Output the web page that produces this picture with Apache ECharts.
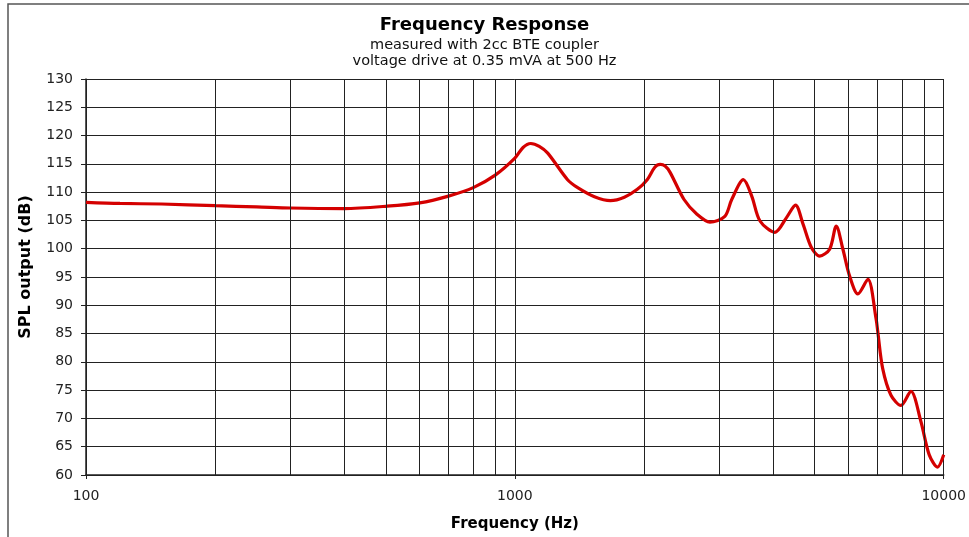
<!DOCTYPE html>
<html><head><meta charset="utf-8">
<script src="https://cdn.jsdelivr.net/npm/echarts@6/dist/echarts.min.js"></script>
<style>html,body{margin:0;padding:0;background:#fff;overflow:hidden}#c{width:969px;height:537px}</style>
</head><body><div id="c"></div>
<script>
var freqs = [100,120,150,200,250,300,400,500,600,700,800,900,1000,1045,1089,1140,1193,1327,1401,1533,1670,1800,1930,2035,2120,2182,2240,2301,2480,2658,2850,3087,3204,3411,3567,3729,4040,4299,4512,4701,4914,5137,5420,5616,5820,6031,6307,6654,6955,7019,7206,7534,7946,8381,8843,9247,9668,10000];
var spl   = [108.2,108.0,107.9,107.6,107.4,107.2,107.1,107.5,108.1,109.3,110.8,113.0,116.0,117.9,118.6,118.1,116.9,112.2,110.8,109.2,108.5,109.1,110.5,112.2,114.4,114.9,114.6,113.5,108.7,106.1,104.7,105.7,108.7,112.2,109.3,104.9,102.9,105.5,107.7,104.3,100.2,98.7,99.9,104.0,99.9,95.2,92.0,94.6,87.6,85.3,78.8,74.1,72.3,74.8,69.5,63.6,61.4,63.6];
var minorFreqs = [200,300,400,500,600,700,800,900,2000,3000,4000,5000,6000,7000,8000,9000];
var titleText = "Frequency Response";
var subText = "measured with 2cc BTE coupler\nvoltage drive at 0.35 mVA at 500 Hz";

var chart = echarts.init(document.getElementById('c'));
var font = "DejaVu Sans";
chart.setOption({
  animation:false,
  backgroundColor:'#fff',
  graphic:[{type:'rect',shape:{x:8,y:4,width:970,height:540},style:{fill:'none',stroke:'#555',lineWidth:1.5},silent:true}],
  title:{text:titleText,subtext:subText,left:'center',top:11,itemGap:3,
    textStyle:{fontFamily:font,fontSize:18,fontWeight:'bold',color:'#000'},
    subtextStyle:{fontFamily:font,fontSize:14.5,color:'#111',lineHeight:16}},
  grid:{left:86,right:21,top:79,bottom:60},
  xAxis:{type:'log',logBase:10,min:100,max:10000,
    name:'Frequency (Hz)',nameLocation:'middle',nameGap:42,
    nameTextStyle:{fontFamily:font,fontSize:15,fontWeight:'bold',color:'#000'},
    axisLine:{lineStyle:{color:'#222',width:1.5}},
    axisTick:{show:true,length:4,lineStyle:{color:'#222'}},
    axisLabel:{fontFamily:font,fontSize:14,color:'#222',margin:14,formatter:function(v){return String(v);}},
    splitLine:{show:true,lineStyle:{color:'#222',width:1}}},
  yAxis:{type:'value',min:60,max:130,interval:5,
    name:'SPL output (dB)',nameLocation:'middle',nameGap:52,
    nameTextStyle:{fontFamily:font,fontSize:16,fontWeight:'bold',color:'#000',padding:[0,0,0,20]},
    axisLine:{show:true,lineStyle:{color:'#222',width:1.5}},
    axisTick:{show:true,length:5,lineStyle:{color:'#222'}},
    axisLabel:{fontFamily:font,fontSize:14,color:'#222',margin:13},
    splitLine:{show:true,lineStyle:{color:'#222',width:1}}},
  series:[{type:'line',data:freqs.map(function(f,i){return [f,spl[i]];}),
    smooth:0.3,symbol:'none',
    lineStyle:{color:'#d40000',width:3.2},
    markLine:{silent:true,symbol:'none',label:{show:false},
      lineStyle:{color:'#222',width:1,type:'solid'},
      data:minorFreqs.map(function(f){return {xAxis:f};})}}]
});
</script></body></html>
